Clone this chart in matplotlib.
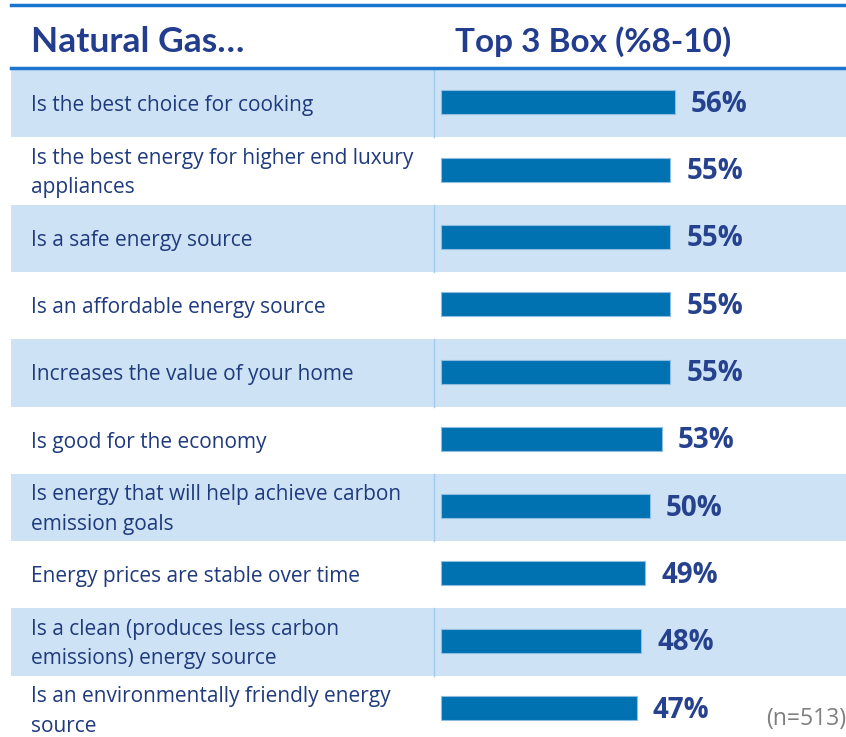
import matplotlib
matplotlib.use("Agg")
import matplotlib.pyplot as plt
from matplotlib.transforms import blended_transform_factory

# data
statements = [
    "Is the best choice for cooking",
    "Is the best energy for higher end luxury\nappliances",
    "Is a safe energy source",
    "Is an affordable energy source",
    "Increases the value of your home",
    "Is good for the economy",
    "Is energy that will help achieve carbon\nemission goals",
    "Energy prices are stable over time",
    "Is a clean (produces less carbon\nemissions) energy source",
    "Is an environmentally friendly energy\nsource",
]
top3 = [56, 55, 55, 55, 55, 53, 50, 49, 48, 47]
col_titles = ["Natural Gas\u2026", "Top 3 Box (%8-10)"]
base_note = "(n=513)"

# layout (pixels)
W, H = 846, 737
row_top = 70.0
row_h = 67.3
bar_x0 = 441.0
px_per_pct = 4.17

shade = "#cde3f5"
line_blue = "#1a75cf"
navy = "#1f3a7d"
val_col = "#26428f"
bar_col = "#0071b1"

fig = plt.figure(figsize=(W / 100, H / 100), dpi=100)
ax = fig.add_axes([0, 0, 1, 1])
# x in percent, y in row units
ax.set_xlim(-bar_x0 / px_per_pct, (W - bar_x0) / px_per_pct)
ax.set_ylim((H - row_top) / row_h, -row_top / row_h)
ax.axis("off")

x_left = (11 - bar_x0) / px_per_pct
sep_x = (434 - bar_x0) / px_per_pct
px = blended_transform_factory(fig.transFigure, ax.transData)
nudge = 2 / row_h  # text sits a touch lower than the row centre

for i, (txt, v) in enumerate(zip(statements, top3)):
    if i % 2 == 0:
        ax.fill_between([x_left, ax.get_xlim()[1]], i, i + 1, color=shade, lw=0, zorder=0)
        ax.plot([sep_x, sep_x], [i, i + 1], color="#9fcbef", lw=1, zorder=1)
    ax.text(31 / W, i + 0.5 + nudge, txt, transform=px, ha="left", va="center",
            fontsize=15, color=navy, family="Open Sans", linespacing=1.55)

ypos = [i + 0.48 for i in range(len(top3))]
ax.barh(ypos, top3, height=24 / row_h, color=bar_col, edgecolor="#8fbde0",
        linewidth=0.8, zorder=2)
for y, v in zip(ypos, top3):
    ax.text(v + 16 / px_per_pct, y + nudge, f"{v}%", ha="left", va="center",
            fontsize=20, fontweight="bold", color=val_col, family="Open Sans")

# header
hy = (42 - row_top) / row_h
ax.text(31 / W, hy, col_titles[0], transform=px, ha="left", va="center",
        fontsize=25.5, fontweight="bold", color="#223d8d", family="Lato")
ax.text(455 / W, hy, col_titles[1], transform=px, ha="left", va="center",
        fontsize=24, fontweight="bold", color="#223d8d", family="Lato")
ax.plot([x_left, ax.get_xlim()[1]], [(5 - row_top) / row_h] * 2, color=line_blue, lw=2.5)
ax.plot([x_left, ax.get_xlim()[1]], [(68 - row_top) / row_h] * 2, color=line_blue, lw=2.5)

fig.text(766 / W, 1 - 719 / H, base_note, ha="left", va="center",
         fontsize=16.5, color="#7f7f7f", family="Open Sans")

fig.savefig("out.png", dpi=100)
